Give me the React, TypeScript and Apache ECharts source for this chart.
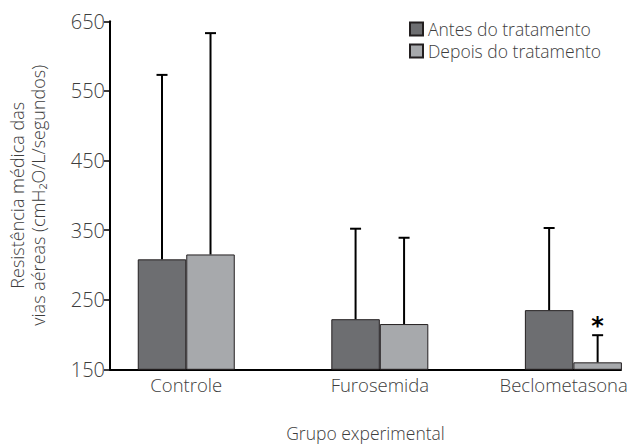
import React, { useEffect, useRef } from "react";
import * as echarts from "echarts";

const categories = ["Controle", "Furosemida", "Beclometasona"];
const seriesNames = ["Antes do tratamento", "Depois do tratamento"];
const antes = [308, 222, 235];
const depois = [315, 215, 160];
const antesErrTop = [573, 352, 353];
const depoisErrTop = [633, 339, 199];
const depoisMarks = ["", "", "*"];
const yTicks = { min: 150, max: 650, interval: 100 };

const FONT = "'Open Sans', Lato, sans-serif";
const BAR_W = 48.5;
const TXT = "#3d3d3d";

export default function App() {
  const ref = useRef<HTMLDivElement>(null);
  useEffect(() => {
    if (!ref.current) return;
    document.body.style.margin = "0";
    document.body.style.overflow = "hidden";
    const chart = echarts.init(ref.current, null, { renderer: "svg" });

    const errData: any[] = [];
    categories.forEach((_, i) => {
      errData.push([i, antes[i], antesErrTop[i], -1, ""]);
      errData.push([i, depois[i], depoisErrTop[i], 1, depoisMarks[i]]);
    });

    const option: any = {
      animation: false,
      backgroundColor: "#fff",
      grid: {
        left: 110,
        right: 15,
        top: 21.3,
        bottom: 76.7,
        containLabel: false,
        outerBoundsMode: "none",
      },
      legend: {
        orient: "vertical",
        left: 404,
        top: 15,
        itemWidth: 13,
        itemHeight: 13,
        itemGap: 4,
        icon: "rect",
        textStyle: { fontFamily: FONT, fontSize: 17.5, color: TXT, fontWeight: 300 },
        data: seriesNames,
      },
      xAxis: {
        type: "value",
        min: -0.394,
        max: 2.246,
        splitLine: { show: false },
        axisTick: { show: false },
        axisLine: { show: true, onZero: false, lineStyle: { color: "#000", width: 2 } },
        axisLabel: {
          customValues: [0, 1, 1.95],
          formatter: (v: number) => categories[Math.round(v)],
          fontFamily: FONT,
          fontSize: 18.5,
          fontWeight: 300,
          color: TXT,
          margin: 6,
        },
        name: "Grupo experimental",
        nameLocation: "middle",
        nameGap: 55,
        nameTextStyle: { fontFamily: FONT, fontSize: 17.5, fontWeight: 300, color: TXT },
      },
      yAxis: {
        type: "value",
        min: yTicks.min,
        max: yTicks.max,
        interval: yTicks.interval,
        splitLine: { show: false },
        axisLine: { show: true, onZero: false, lineStyle: { color: "#000", width: 2 } },
        axisTick: { show: true, length: 6, lineStyle: { color: "#000", width: 1.5 } },
        axisLabel: {
          fontFamily: FONT,
          fontSize: 20,
          fontWeight: 300,
          color: TXT,
          margin: 5,
        },
        name: "Resistência médica das\nvias aéreas (cmH₂O/L/segundos)",
        nameLocation: "middle",
        nameGap: 62,
        nameTextStyle: {
          fontFamily: FONT,
          fontSize: 18,
          fontWeight: 300,
          color: TXT,
          lineHeight: 21,
        },
      },
      series: [
        {
          name: seriesNames[0],
          type: "bar",
          barWidth: BAR_W,
          barGap: "0%",
          itemStyle: { color: "#6d6e71", borderColor: "#231f20", borderWidth: 1 },
          data: antes.map((v, i) => [i, v]),
        },
        {
          name: seriesNames[1],
          type: "bar",
          barWidth: BAR_W,
          barGap: "0%",
          itemStyle: { color: "#a7a9ac", borderColor: "#231f20", borderWidth: 1 },
          data: depois.map((v, i) => [i, v]),
        },
        {
          type: "custom",
          z: 5,
          silent: true,
          data: errData,
          encode: { x: 0, y: [1, 2] },
          renderItem: (params: any, api: any) => {
            const x = api.value(0);
            const lo = api.coord([x, api.value(1)]);
            const hi = api.coord([x, api.value(2)]);
            const side = api.value(3);
            const mark = api.value(4);
            const cx = lo[0] + (side * BAR_W) / 2;
            const children: any[] = [
              {
                type: "line",
                shape: { x1: cx, y1: lo[1], x2: cx, y2: hi[1] },
                style: { stroke: "#000", lineWidth: 2 },
              },
              {
                type: "line",
                shape: { x1: cx - 5.5, y1: hi[1], x2: cx + 5.5, y2: hi[1] },
                style: { stroke: "#000", lineWidth: 2 },
              },
            ];
            if (mark) {
              children.push({
                type: "text",
                style: {
                  x: cx,
                  y: hi[1] - 9,
                  text: mark,
                  fill: "#000",
                  fontSize: 24,
                  fontWeight: "bold",
                  fontFamily: "DejaVu Sans",
                  align: "center",
                  verticalAlign: "middle",
                },
              });
            }
            return { type: "group", children };
          },
        },
      ],
    };
    chart.setOption(option);
    return () => chart.dispose();
  }, []);
  return (
    <div
      ref={ref}
      style={{ width: 636, height: 446, position: "absolute", left: 0, top: 0, overflow: "hidden" }}
    />
  );
}
